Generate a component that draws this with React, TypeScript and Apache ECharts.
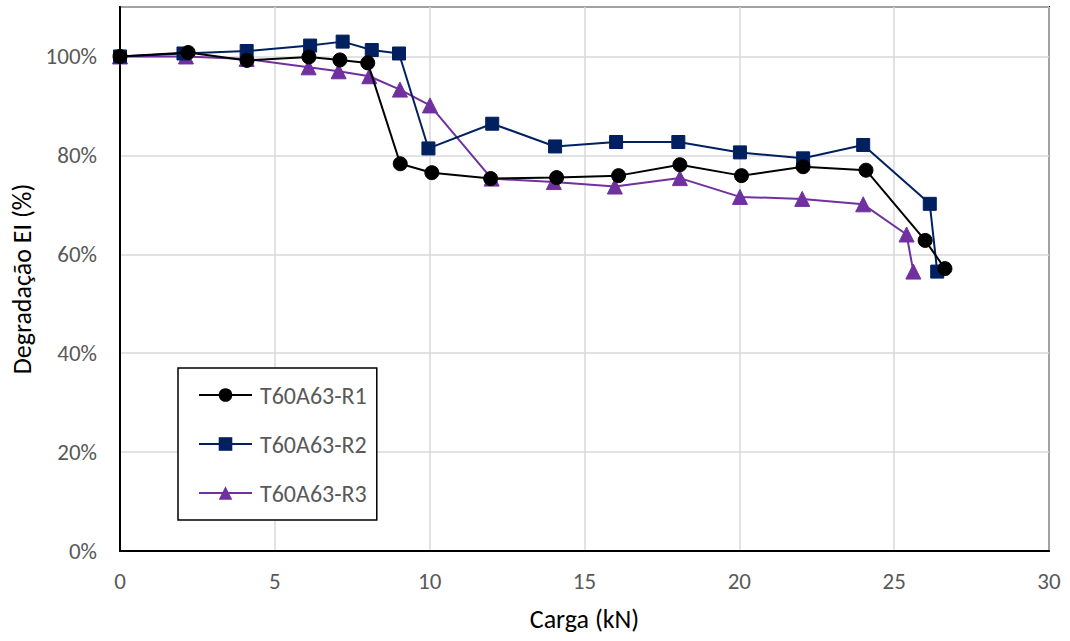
import React, { useEffect, useRef } from "react";
import * as echarts from "echarts";

// Load (kN) and stiffness ratio EI / EI0 for each specimen
const r1Load = [0, 2.2, 4.1, 6.1, 7.1, 8.0, 9.05, 10.07, 11.97, 14.1, 16.1, 18.08, 20.07, 22.06, 24.09, 26.0, 26.64];
const r1Ratio = [1.0, 1.008, 0.992, 0.999, 0.993, 0.987, 0.783, 0.765, 0.753, 0.755, 0.759, 0.781, 0.759, 0.777, 0.77, 0.628, 0.571];

const r2Load = [0, 2.05, 4.09, 6.14, 7.19, 8.13, 9.01, 9.96, 12.02, 14.05, 16.02, 18.03, 20.02, 22.06, 24.0, 26.15, 26.39];
const r2Ratio = [1.0, 1.006, 1.011, 1.022, 1.03, 1.013, 1.006, 0.814, 0.864, 0.818, 0.827, 0.827, 0.806, 0.794, 0.821, 0.702, 0.565];

const r3Load = [0, 2.13, 4.09, 6.09, 7.06, 8.05, 9.04, 10.01, 12.0, 14.01, 15.98, 18.08, 20.02, 22.03, 24.0, 25.4, 25.62];
const r3Ratio = [1.0, 1.0, 0.995, 0.978, 0.97, 0.96, 0.933, 0.901, 0.753, 0.746, 0.737, 0.754, 0.716, 0.712, 0.701, 0.64, 0.565];

const seriesNames = ["T60A63-R1", "T60A63-R2", "T60A63-R3"];
const seriesColors = ["#000000", "#002060", "#7030A0"];
const seriesSymbols = ["circle", "rect", "triangle"];
const seriesSizes = [14, 13, 15];

const xTicks = { min: 0, max: 30, step: 5 };
const yTicks = { min: 0, max: 1.1, step: 0.2 };

const FONT = "Carlito, Calibri, 'Liberation Sans Narrow', 'Open Sans', sans-serif";

const zip = (xs: number[], ys: number[]) => xs.map((x, i) => [x, ys[i]]);

export default function App() {
  const ref = useRef<HTMLDivElement>(null);

  useEffect(() => {
    if (!ref.current) return;
    const chart = echarts.init(ref.current, undefined, { renderer: "svg" });
    const data = [zip(r1Load, r1Ratio), zip(r2Load, r2Ratio), zip(r3Load, r3Ratio)];

    chart.setOption({
      animation: false,
      backgroundColor: "#ffffff",
      textStyle: { fontFamily: FONT },
      grid: {
        left: 120,
        right: 21,
        top: 7,
        bottom: 90,
        show: true,
        borderColor: "#000",
        borderWidth: 2,
        backgroundColor: "transparent",
      },
      legend: {
        orient: "vertical",
        left: 178,
        top: 368,
        backgroundColor: "#fff",
        borderColor: "#000",
        borderWidth: 1.5,
        borderRadius: 0,
        padding: [15, 10, 15, 20],
        itemGap: 25,
        itemWidth: 53,
        itemHeight: 17,
        textStyle: { fontFamily: FONT, fontSize: 24, color: "#595959", padding: [0, 0, 0, 3] },
        data: seriesNames,
      },
      xAxis: {
        type: "value",
        min: xTicks.min,
        max: xTicks.max,
        interval: xTicks.step,
        name: "Carga (kN)",
        nameLocation: "middle",
        nameGap: 55,
        nameTextStyle: { fontFamily: FONT, fontSize: 26, color: "#000" },
        axisLine: { lineStyle: { color: "#000", width: 2 } },
        axisTick: { show: false },
        axisLabel: { fontFamily: FONT, fontSize: 23, color: "#595959", margin: 18 },
        splitLine: { show: true, lineStyle: { color: "#d9d9d9", width: 1.5 } },
      },
      yAxis: {
        type: "value",
        min: yTicks.min,
        max: yTicks.max,
        interval: yTicks.step,
        name: "Degradação EI (%)",
        nameLocation: "middle",
        nameGap: 85,
        nameTextStyle: { fontFamily: FONT, fontSize: 26, color: "#000" },
        axisLine: { show: true, lineStyle: { color: "#000", width: 2 } },
        axisTick: { show: false },
        axisLabel: {
          fontFamily: FONT,
          fontSize: 23,
          color: "#595959",
          margin: 23,
          formatter: (v: number) => (v > 1.05 ? "" : Math.round(v * 100) + "%"),
        },
        splitLine: { show: true, lineStyle: { color: "#d9d9d9", width: 1.5 } },
      },
      series: seriesNames.map((name, i) => ({
        name,
        type: "line",
        data: data[i],
        symbol: seriesSymbols[i],
        symbolSize: seriesSizes[i],
        showAllSymbol: true,
        lineStyle: { color: seriesColors[i], width: 2 },
        itemStyle: { color: seriesColors[i], borderColor: seriesColors[i] },
        z: 3 - i,
      })),
    });

    return () => chart.dispose();
  }, []);

  return (
    <div
      ref={ref}
      style={{ position: "fixed", left: 0, top: 0, width: 1070, height: 641 }}
    />
  );
}
